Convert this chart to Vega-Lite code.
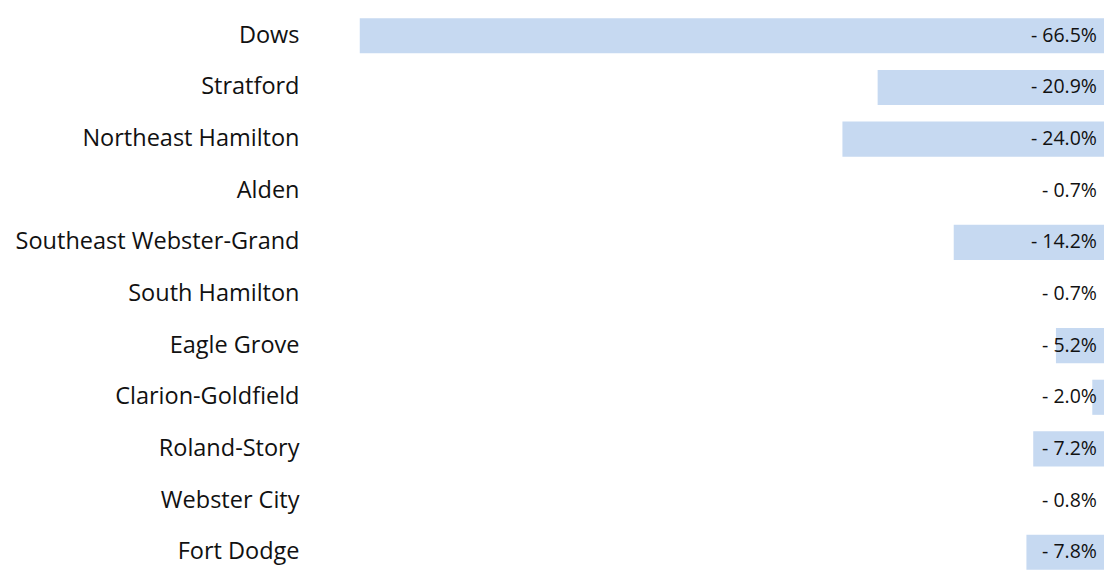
{
  "$schema": "https://vega.github.io/schema/vega-lite/v6.json",
  "autosize": {"type": "none"},
  "padding": {"left": 320, "top": 10, "right": 0, "bottom": 0},
  "width": 795,
  "height": 568,
  "background": "white",
  "config": {"view": {"stroke": null}},
  "data": {"values": [
    {"district": "Dows", "change": 66.5, "label": "- 66.5%"},
    {"district": "Stratford", "change": 20.9, "label": "- 20.9%"},
    {"district": "Northeast Hamilton", "change": 24.0, "label": "- 24.0%"},
    {"district": "Alden", "change": 0.7, "label": "- 0.7%"},
    {"district": "Southeast Webster-Grand", "change": 14.2, "label": "- 14.2%"},
    {"district": "South Hamilton", "change": 0.7, "label": "- 0.7%"},
    {"district": "Eagle Grove", "change": 5.2, "label": "- 5.2%"},
    {"district": "Clarion-Goldfield", "change": 2.0, "label": "- 2.0%"},
    {"district": "Roland-Story", "change": 7.2, "label": "- 7.2%"},
    {"district": "Webster City", "change": 0.8, "label": "- 0.8%"},
    {"district": "Fort Dodge", "change": 7.8, "label": "- 7.8%"}
  ]},
  "encoding": {
    "y": {
      "field": "district", "type": "nominal", "sort": null,
      "scale": {"paddingInner": 0.32, "paddingOuter": 0.16},
      "axis": {"title": null, "ticks": false, "domain": false, "labelPadding": 21,
               "labelFont": "Open Sans", "labelFontSize": 23.5, "labelColor": "#111111", "labelLimit": 400}
    }
  },
  "layer": [
    {
      "mark": {"type": "bar", "color": "#c6d9f1"},
      "encoding": {
        "x": {"field": "change", "type": "quantitative",
              "scale": {"domain": [0, 70], "reverse": true, "nice": false},
              "axis": null}
      }
    },
    {
      "mark": {"type": "text", "align": "right", "baseline": "middle", "dx": -18,
               "font": "Open Sans", "fontSize": 19.5, "color": "#111111"},
      "encoding": {
        "x": {"datum": 0, "type": "quantitative"},
        "text": {"field": "label"}
      }
    }
  ]
}
